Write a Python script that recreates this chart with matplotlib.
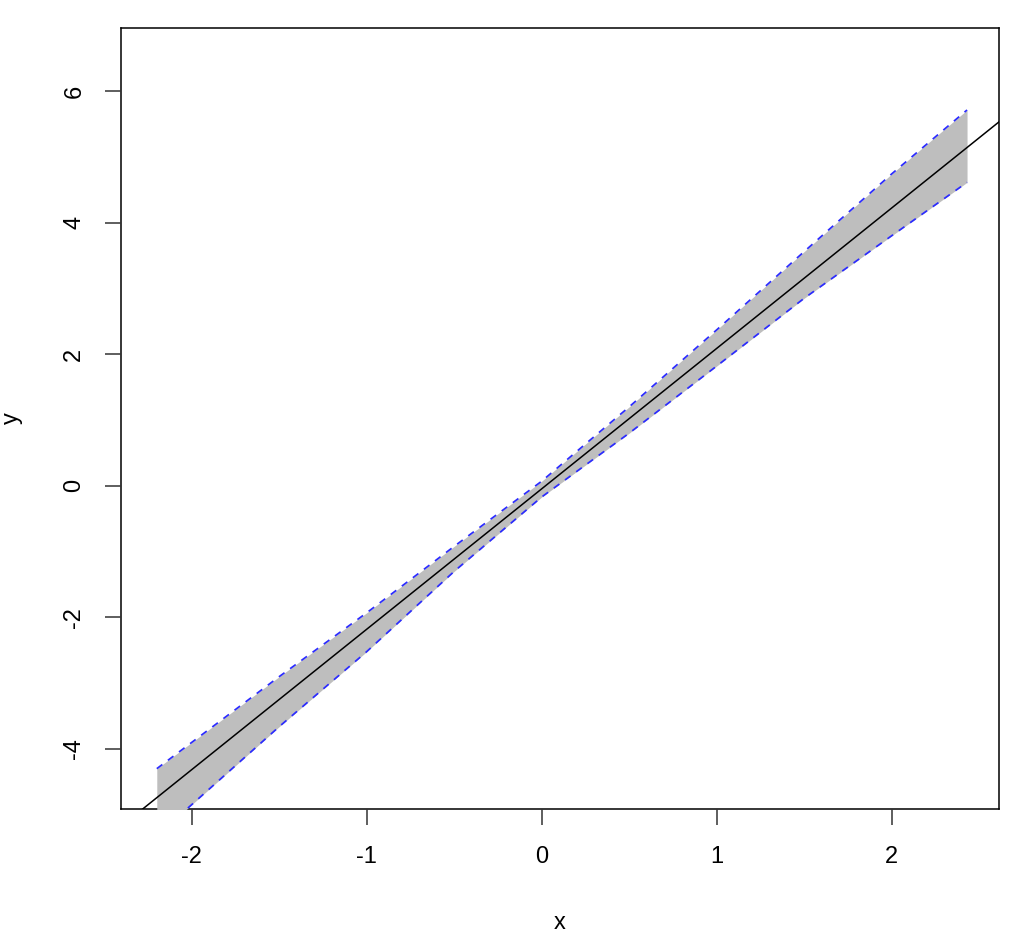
import matplotlib
matplotlib.use("Agg")
import matplotlib.pyplot as plt

# Fitted line (abline) parameters
intercept = -0.046
slope = 2.134

# Confidence band
x_band = [-2.2, -1.5, -1.0, -0.5, 0.0, 0.5, 1.0, 1.5, 2.0, 2.43]
upper = [-4.30, -2.90, -1.93, -0.92, 0.07, 1.20, 2.37, 3.56, 4.74, 5.71]
lower = [-5.32, -3.66, -2.52, -1.30, -0.17, 0.80, 1.82, 2.85, 3.80, 4.61]

x_ticks = [-2, -1, 0, 1, 2]
y_ticks = [-4, -2, 0, 2, 4, 6]

plt.rcParams['font.family'] = ['Liberation Sans', 'DejaVu Sans']

fig = plt.figure(figsize=(10.18, 9.46), dpi=100)
ax = fig.add_axes([0.1186, 0.1448, 0.8628, 0.8256])

ax.fill_between(x_band, lower, upper, color='#BEBEBE', lw=0, zorder=1)
ax.plot(x_band, upper, color='#2B2BFF', ls=(0, (4, 4)), lw=1.25, zorder=2)
ax.plot(x_band, lower, color='#2B2BFF', ls=(0, (4, 4)), lw=1.25, zorder=2)
ax.axline((0, intercept), slope=slope, color='black', lw=1.1, zorder=3)

ax.set_xlim(-2.406, 2.613)
ax.set_ylim(-4.913, 6.956)
ax.set_xticks(x_ticks)
ax.set_yticks(y_ticks)
ax.set_xticklabels([str(t) for t in x_ticks])
ax.set_yticklabels([str(t) for t in y_ticks], rotation=90, va='center')

for s in ax.spines.values():
    s.set_linewidth(1.1)
    s.set_color('black')
    s.set_zorder(0.5)

ax.tick_params(axis='x', length=11.5, width=1.1, labelsize=17, pad=15, color='#333333')
ax.tick_params(axis='y', length=11.5, width=1.1, labelsize=17, pad=14, color='#333333')

ax.set_xlabel('x', fontsize=17)
ax.xaxis.set_label_coords(0.5, -0.146)
ax.xaxis.label.set_va('center')
ax.set_ylabel('y', fontsize=17)
ax.yaxis.set_label_coords(-0.1238, 0.5)
ax.yaxis.label.set_va('center')

fig.savefig('out.png', dpi=100)
